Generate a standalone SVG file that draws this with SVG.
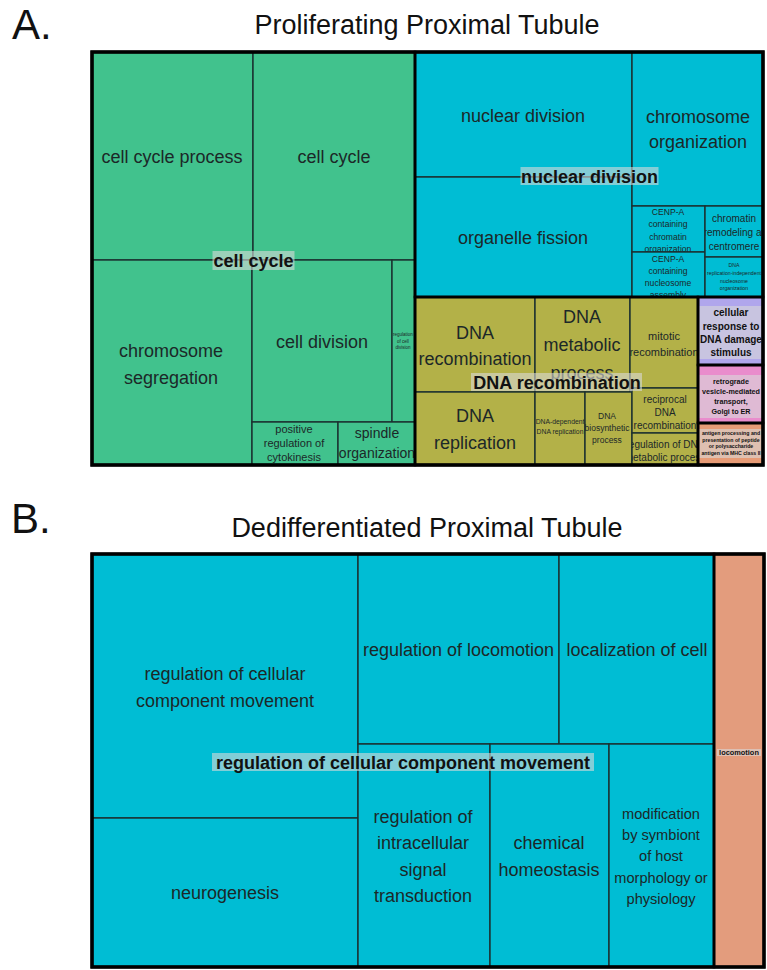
<svg xmlns="http://www.w3.org/2000/svg" width="767" height="970" viewBox="0 0 767 970">
<style>
.cell{stroke:#1b2f2f;stroke-width:1.4}
.grp{fill:none;stroke:#000;stroke-width:2.6}
.panel{fill:none;stroke:#000;stroke-width:3.5}
.t{font-family:"Liberation Sans",Arial,Helvetica,sans-serif;fill:#1c2828;text-anchor:middle}
.b{font-weight:bold;fill:#111}
.lbg{fill:#d8d8d8;fill-opacity:0.6}
.green{fill:#41c28d}
.cyan{fill:#00bdd4}
.olive{fill:#b3b148}
.lav{fill:#b0a6ec}
.pink{fill:#e98ccc}
.orng{fill:#e79b76}
.salm{fill:#e39c7d}
.f18{font-size:18px}
</style>
<defs>
<clipPath id="c-rcd"><rect x="392" y="260" width="23" height="162"/></clipPath>
<clipPath id="c-prc"><rect x="252" y="422" width="86" height="43"/></clipPath>
<clipPath id="c-so"><rect x="338" y="422" width="77" height="43"/></clipPath>
<clipPath id="c-cenp1"><rect x="632" y="206" width="73" height="46"/></clipPath>
<clipPath id="c-cenp2"><rect x="632" y="252" width="73" height="45"/></clipPath>
<clipPath id="c-crc"><rect x="705" y="206" width="58" height="51"/></clipPath>
<clipPath id="c-dri"><rect x="705" y="257" width="58" height="40"/></clipPath>
<clipPath id="c-dmp"><rect x="535" y="297" width="95" height="95"/></clipPath>
<clipPath id="c-mr"><rect x="630" y="297" width="68" height="91"/></clipPath>
<clipPath id="c-ddr"><rect x="535" y="392" width="50" height="73"/></clipPath>
<clipPath id="c-dbp"><rect x="585" y="392" width="47" height="73"/></clipPath>
<clipPath id="c-rdr"><rect x="632" y="388" width="66" height="45"/></clipPath>
<clipPath id="c-rdmp"><rect x="632" y="433" width="66" height="32"/></clipPath>
</defs>

<g id="titles">
<text class="t" x="12" y="39" font-size="42" style="text-anchor:start;fill:#111">A.</text>
<text class="t" x="427" y="34" font-size="27" style="fill:#111">Proliferating Proximal Tubule</text>
<text class="t" x="11" y="533" font-size="42" style="text-anchor:start;fill:#111">B.</text>
<text class="t" x="427" y="537" font-size="27" style="fill:#111">Dedifferentiated Proximal Tubule</text>
</g>

<g id="connectors"></g>

<!-- Panel A: cell cycle group -->
<g id="node-cell-cycle-process"><rect class="cell green" x="92" y="52" width="161" height="208"/><text class="t f18" x="172" y="163">cell cycle process</text></g>
<g id="node-cell-cycle"><rect class="cell green" x="253" y="52" width="162" height="208"/><text class="t f18" x="334" y="163">cell cycle</text></g>
<g id="node-chromosome-segregation"><rect class="cell green" x="92" y="260" width="160" height="205"/><text class="t f18" x="171"><tspan x="171" y="357">chromosome</tspan><tspan x="171" y="384">segregation</tspan></text></g>
<g id="node-cell-division"><rect class="cell green" x="252" y="260" width="140" height="162"/><text class="t f18" x="322" y="348">cell division</text></g>
<g id="node-regulation-of-cell-division"><rect class="cell green" x="392" y="260" width="23" height="162"/><text class="t" font-size="4.5" clip-path="url(#c-rcd)"><tspan x="403" y="336">regulation</tspan><tspan x="403" y="342.5">of cell</tspan><tspan x="403" y="349">division</tspan></text></g>
<g id="node-positive-regulation-of-cytokinesis"><rect class="cell green" x="252" y="422" width="86" height="43"/><text class="t" font-size="11" clip-path="url(#c-prc)"><tspan x="294" y="433">positive</tspan><tspan x="294" y="447">regulation of</tspan><tspan x="294" y="461">cytokinesis</tspan></text></g>
<g id="node-spindle-organization"><rect class="cell green" x="338" y="422" width="77" height="43"/><text class="t" font-size="14" clip-path="url(#c-so)"><tspan x="377" y="438">spindle</tspan><tspan x="377" y="458">organization</tspan></text></g>

<!-- nuclear division group -->
<g id="node-nuclear-division"><rect class="cell cyan" x="415" y="52" width="217" height="125"/><text class="t f18" x="523" y="122">nuclear division</text></g>
<g id="node-organelle-fission"><rect class="cell cyan" x="415" y="177" width="217" height="120"/><text class="t f18" x="523" y="244">organelle fission</text></g>
<g id="node-chromosome-organization"><rect class="cell cyan" x="632" y="52" width="131" height="154"/><text class="t f18"><tspan x="698" y="123">chromosome</tspan><tspan x="698" y="148">organization</tspan></text></g>
<g id="node-cenp-a-chromatin"><rect class="cell cyan" x="632" y="206" width="73" height="46"/><text class="t" font-size="8.6" clip-path="url(#c-cenp1)"><tspan x="668" y="214.5">CENP-A</tspan><tspan x="668" y="227">containing</tspan><tspan x="668" y="239.5">chromatin</tspan><tspan x="668" y="251.5">organization</tspan></text></g>
<g id="node-cenp-a-nucleosome"><rect class="cell cyan" x="632" y="252" width="73" height="45"/><text class="t" font-size="8.6" clip-path="url(#c-cenp2)"><tspan x="668" y="262">CENP-A</tspan><tspan x="668" y="274">containing</tspan><tspan x="668" y="286">nucleosome</tspan><tspan x="668" y="298">assembly</tspan></text></g>
<g id="node-chromatin-remodeling"><rect class="cell cyan" x="705" y="206" width="58" height="51"/><text class="t" font-size="10" clip-path="url(#c-crc)"><tspan x="734" y="222">chromatin</tspan><tspan x="734" y="236">remodeling at</tspan><tspan x="734" y="250">centromere</tspan></text></g>
<g id="node-dna-replication-independent"><rect class="cell cyan" x="705" y="257" width="58" height="40"/><text class="t" font-size="5.2" clip-path="url(#c-dri)"><tspan x="734" y="267">DNA</tspan><tspan x="734" y="275">replication-independent</tspan><tspan x="734" y="282.5">nucleosome</tspan><tspan x="734" y="290">organization</tspan></text></g>

<!-- DNA recombination group -->
<g id="node-dna-recombination"><rect class="cell olive" x="415" y="297" width="120" height="95"/><text class="t f18"><tspan x="475" y="339">DNA</tspan><tspan x="475" y="365">recombination</tspan></text></g>
<g id="node-dna-metabolic-process"><rect class="cell olive" x="535" y="297" width="95" height="95"/><text class="t f18" clip-path="url(#c-dmp)"><tspan x="582" y="323">DNA</tspan><tspan x="582" y="351">metabolic</tspan><tspan x="582" y="379">process</tspan></text></g>
<g id="node-mitotic-recombination"><rect class="cell olive" x="630" y="297" width="68" height="91"/><text class="t" font-size="11" clip-path="url(#c-mr)"><tspan x="664" y="340">mitotic</tspan><tspan x="664" y="356">recombination</tspan></text></g>
<g id="node-dna-replication"><rect class="cell olive" x="415" y="392" width="120" height="73"/><text class="t f18"><tspan x="475" y="422">DNA</tspan><tspan x="475" y="449">replication</tspan></text></g>
<g id="node-dna-dependent-dna-replication"><rect class="cell olive" x="535" y="392" width="50" height="73"/><text class="t" font-size="6.8" clip-path="url(#c-ddr)"><tspan x="560" y="424">DNA-dependent</tspan><tspan x="560" y="434">DNA replication</tspan></text></g>
<g id="node-dna-biosynthetic-process"><rect class="cell olive" x="585" y="392" width="47" height="73"/><text class="t" font-size="8.5" clip-path="url(#c-dbp)"><tspan x="607" y="419">DNA</tspan><tspan x="607" y="431">biosynthetic</tspan><tspan x="607" y="443">process</tspan></text></g>
<g id="node-reciprocal-dna-recombination"><rect class="cell olive" x="632" y="388" width="66" height="45"/><text class="t" font-size="10" clip-path="url(#c-rdr)"><tspan x="665" y="403">reciprocal</tspan><tspan x="665" y="416">DNA</tspan><tspan x="665" y="429">recombination</tspan></text></g>
<g id="node-regulation-of-dna-metabolic-process"><rect class="cell olive" x="632" y="433" width="66" height="32"/><text class="t" font-size="10" clip-path="url(#c-rdmp)"><tspan x="665" y="448">regulation of DNA</tspan><tspan x="665" y="461">metabolic process</tspan></text></g>

<!-- single-term groups -->
<g id="node-cellular-response-to-dna-damage"><rect class="cell lav" x="698" y="297" width="65" height="68"/><rect class="lbg" x="698" y="306" width="65" height="53"/><text class="t b" font-size="10"><tspan x="731" y="316">cellular</tspan><tspan x="731" y="330">response to</tspan><tspan x="731" y="343">DNA damage</tspan><tspan x="731" y="356">stimulus</tspan></text></g>
<g id="node-retrograde-transport"><rect class="cell pink" x="698" y="365" width="65" height="58"/><rect class="lbg" x="698" y="375" width="65" height="43"/><text class="t b" font-size="7.2"><tspan x="731" y="384">retrograde</tspan><tspan x="731" y="394">vesicle-mediated</tspan><tspan x="731" y="404">transport,</tspan><tspan x="731" y="414">Golgi to ER</tspan></text></g>
<g id="node-antigen-processing"><rect class="cell orng" x="698" y="423" width="65" height="42"/><rect class="lbg" x="698" y="429" width="65" height="29"/><text class="t b" font-size="5.2"><tspan x="731" y="435">antigen processing and</tspan><tspan x="731" y="441.7">presentation of peptide</tspan><tspan x="731" y="448.3">or polysaccharide</tspan><tspan x="731" y="455">antigen via MHC class II</tspan></text></g>

<g id="groups-A">
<rect class="grp" x="92" y="52" width="323" height="413"/>
<rect class="grp" x="415" y="52" width="348" height="245"/>
<rect class="grp" x="415" y="297" width="283" height="168"/>
<rect class="grp" x="698" y="297" width="65" height="68"/>
<rect class="grp" x="698" y="365" width="65" height="58"/>
<rect class="grp" x="698" y="423" width="65" height="42"/>
<rect class="panel" x="92" y="52" width="671" height="413"/>
</g>

<g id="label-cell-cycle"><rect class="lbg" x="212.5" y="251" width="82" height="19"/><text class="t b f18" x="253.5" y="266.5">cell cycle</text></g>
<g id="label-nuclear-division"><rect class="lbg" x="520.5" y="167" width="138" height="18"/><text class="t b f18" x="589.5" y="182.5">nuclear division</text></g>
<g id="label-dna-recombination"><rect class="lbg" x="471" y="373" width="171" height="18"/><text class="t b f18" x="557" y="388.5">DNA recombination</text></g>

<!-- Panel B -->
<g id="node-regulation-of-cellular-component-movement"><rect class="cell cyan" x="92" y="554" width="266" height="264"/><text class="t f18"><tspan x="225" y="680">regulation of cellular</tspan><tspan x="225" y="706.5">component movement</tspan></text></g>
<g id="node-neurogenesis"><rect class="cell cyan" x="92" y="818" width="266" height="149"/><text class="t f18" x="225" y="899">neurogenesis</text></g>
<g id="node-regulation-of-locomotion"><rect class="cell cyan" x="358" y="554" width="201" height="190"/><text class="t f18" x="458.5" y="656">regulation of locomotion</text></g>
<g id="node-localization-of-cell"><rect class="cell cyan" x="559" y="554" width="155" height="190"/><text class="t f18" x="637" y="656">localization of cell</text></g>
<g id="node-regulation-of-intracellular-signal-transduction"><rect class="cell cyan" x="358" y="744" width="132" height="223"/><text class="t f18"><tspan x="423" y="823">regulation of</tspan><tspan x="423" y="849.3">intracellular</tspan><tspan x="423" y="875.6">signal</tspan><tspan x="423" y="902">transduction</tspan></text></g>
<g id="node-chemical-homeostasis"><rect class="cell cyan" x="490" y="744" width="119" height="223"/><text class="t f18"><tspan x="549" y="849">chemical</tspan><tspan x="549" y="876">homeostasis</tspan></text></g>
<g id="node-modification-by-symbiont"><rect class="cell cyan" x="609" y="744" width="105" height="223"/><text class="t" font-size="14.6"><tspan x="661" y="819">modification</tspan><tspan x="661" y="840.2">by symbiont</tspan><tspan x="661" y="861.4">of host</tspan><tspan x="661" y="882.6">morphology or</tspan><tspan x="661" y="904">physiology</tspan></text></g>
<g id="node-locomotion"><rect class="cell salm" x="714" y="554" width="50" height="413"/><rect class="lbg" x="717" y="749" width="44" height="7"/><text class="t b" font-size="7.4" x="739" y="755">locomotion</text></g>

<g id="groups-B">
<rect class="grp" x="92" y="554" width="622" height="413"/>
<rect class="grp" x="714" y="554" width="50" height="413"/>
<rect class="panel" x="92" y="554" width="672" height="413"/>
</g>

<g id="label-regulation-of-cellular-component-movement"><rect class="lbg" x="212" y="753" width="382" height="18"/><text class="t b f18" x="403" y="768.5">regulation of cellular component movement</text></g>
</svg>
